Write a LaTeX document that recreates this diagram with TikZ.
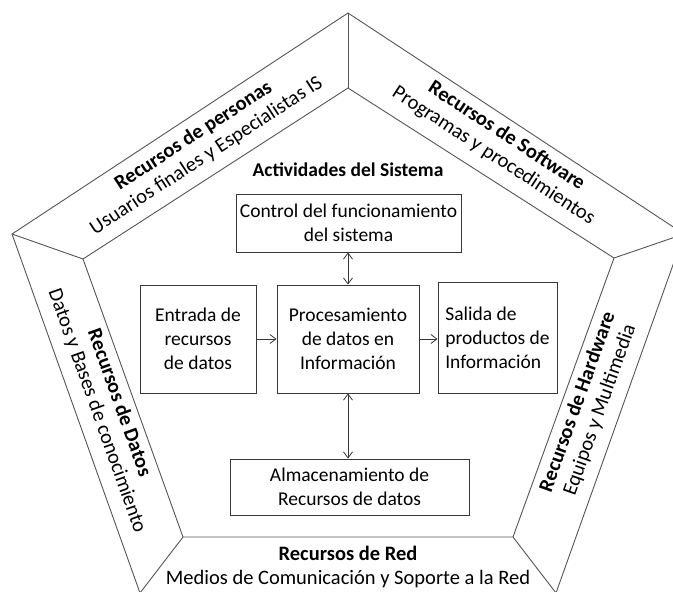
\documentclass[tikz,border=0pt]{standalone}
\usepackage{fontspec}
\setmainfont{Carlito}
\usepackage{tikz}
\usetikzlibrary{arrows.meta,positioning}
\definecolor{edgegray}{RGB}{85,85,85}
\definecolor{boxgray}{RGB}{55,55,55}

\begin{document}
\begin{tikzpicture}[x=1pt,y=-1pt,
    box/.style={draw=boxgray,line width=0.9pt,align=center,inner sep=2pt,
      font=\fontsize{19.5}{24}\selectfont},
    band/.style={align=center,inner sep=0pt,font=\fontsize{20.5}{23.5}\selectfont},
    link/.style={{Straight Barb[length=6pt,width=9pt]}-{Straight Barb[length=6pt,width=9pt]},
      draw=boxgray,line width=0.8pt},
    flow/.style={-{Straight Barb[length=6pt,width=9pt]},draw=boxgray,line width=0.8pt}]
    \useasboundingbox (0,0) rectangle (673,592);
    \clip (0,0) rectangle (673,592);
    % Outer and inner pentagon
    \coordinate (ot) at (348,13);  \coordinate (it) at (348,88);
    \coordinate (or) at (684,234); \coordinate (ir) at (614,258);
    \coordinate (obr) at (556,593); \coordinate (ibr) at (513,537);
    \coordinate (obl) at (140,593); \coordinate (ibl) at (183,537);
    \coordinate (ol) at (12,234);  \coordinate (il) at (83,259);
    \draw[edgegray,line width=0.9pt] (ot) -- (or) -- (obr) -- (obl) -- (ol) -- cycle;
    \draw[edgegray,line width=0.9pt] (it) -- (ir) -- (ibr) -- (ibl) -- (il) -- cycle;
    \foreach \v in {t,r,br,bl,l}
        \draw[edgegray,line width=0.9pt] (o\v) -- (i\v);
    % Resource bands
    \node[band,rotate=33.1] (personas) at (200,146)
        {\textbf{Recursos de personas}\\Usuarios finales y Especialistas IS};
    \node[band,rotate=-33.1] (software) at (500,146)
        {\textbf{Recursos de Software}\\Programas y procedimientos};
    \node[band,rotate=-70.3] (datos) at (108,407)
        {\textbf{Recursos de Datos}\\Datos y Bases de conocimiento};
    \node[band,rotate=70.3] (hardware) at (589,406)
        {\textbf{Recursos de Hardware}\\Equipos y Multimedia};
    \node[band] (red) at (348,567)
        {\textbf{Recursos de Red}\\Medios de Comunicación y Soporte a la Red};
    % System activities
    \node[font=\fontsize{19.5}{24}\selectfont\bfseries] (titulo) at (348,170) {Actividades del Sistema};
    \node[box,minimum width=225pt,minimum height=58pt] (ctrl) at (348.5,223)
        {Control del funcionamiento\\del sistema};
    \node[box,minimum width=116pt,minimum height=108pt] (entrada) at (198,339)
        {Entrada de\\recursos\\de datos};
    \node[box,minimum width=142pt,minimum height=108pt] (proc) at (348,339)
        {Procesamiento\\de datos en\\Información};
    \node[box,align=left,minimum width=119pt,minimum height=111pt] (salida) at (497.5,337.5)
        {Salida de\\productos de\\Información};
    \node[box,minimum width=239pt,minimum height=56pt] (alma) at (349.5,487)
        {Almacenamiento de\\Recursos de datos};
    % Flows
    \draw[flow] (entrada) -- (proc);
    \draw[flow] (proc.east) -- (proc.east -| salida.west);
    \draw[link] (ctrl.south -| proc.north) -- (proc.north);
    \draw[link] (proc.south) -- (proc.south |- alma.north);
\end{tikzpicture}
\end{document}
